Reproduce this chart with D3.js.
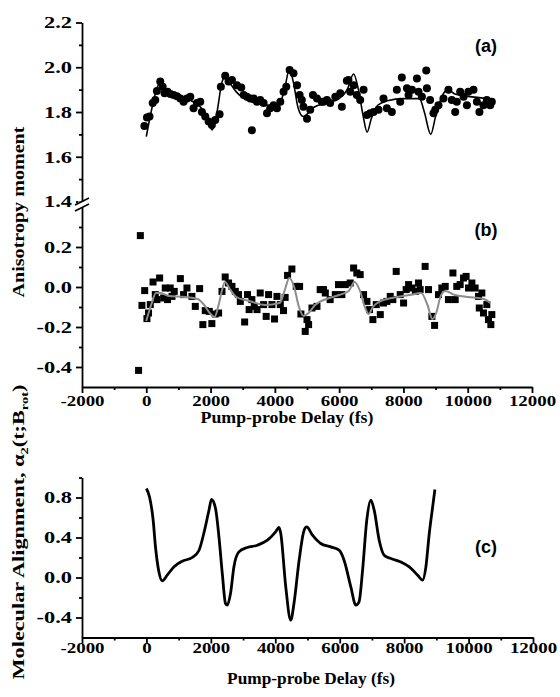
<!DOCTYPE html>
<meta charset="utf-8">
<style>
    html, body { margin: 0; padding: 0; background: #fff; }
    svg { display: block; }
    .ttl { font-family: "Liberation Serif", "Times New Roman", serif; font-weight: bold; font-size: 17px; }
    .tag { font-family: "Liberation Sans", Arial, sans-serif; font-weight: bold; font-size: 18px; }
</style>
<svg id="chart" width="560" height="697"></svg>
<script src="https://d3js.org/d3.v7.min.js"></script>
<script>
    // panel (a): anisotropy moment, circles + fit
    const delayA = [-60, 20, 100, 200, 280, 330, 435, 510, 570, 660, 750, 850, 955, 1060, 1160, 1265, 1370, 1470, 1575, 1680,
        1730, 1835, 1940, 2040, 2145, 2280, 2320, 2455, 2560, 2665, 2820, 2955, 3030, 3130, 3235, 3285, 3340, 3445, 3545, 3650,
        3755, 3855, 3960, 4065, 4170, 4270, 4355, 4460, 4580, 4690, 4770, 4840, 4890, 5000, 5100, 5185, 5310, 5460, 5515, 5620,
        5720, 5880, 6035, 6085, 6240, 6290, 6345, 6450, 6550, 6655, 6760, 6865, 6965, 7070, 7225, 7380, 7485, 7640, 7795, 7900,
        7950, 8110, 8160, 8265, 8420, 8470, 8575, 8710, 8730, 8830, 8935, 8990, 9090, 9245, 9400, 9505, 9610, 9660, 9765, 9870,
        9975, 10020, 10180, 10285, 10365, 10490, 10595, 10700, 10750];
    const momentA = [1.737, 1.775, 1.78, 1.84, 1.854, 1.894, 1.936, 1.913, 1.884, 1.89, 1.88, 1.876, 1.87, 1.86, 1.846, 1.86, 1.868, 1.817, 1.84, 1.846,
        1.80, 1.78, 1.757, 1.742, 1.764, 1.79, 1.913, 1.962, 1.936, 1.943, 1.92, 1.91, 1.876, 1.868, 1.86, 1.718, 1.86, 1.846, 1.854, 1.84,
        1.794, 1.817, 1.83, 1.817, 1.846, 1.89, 1.913, 1.988, 1.973, 1.92, 1.876, 1.854, 1.824, 1.77, 1.81, 1.876, 1.86, 1.846, 1.846, 1.854,
        1.84, 1.868, 1.884, 1.824, 1.94, 1.943, 1.89, 1.92, 1.876, 1.854, 1.90, 1.787, 1.794, 1.80, 1.81, 1.86, 1.817, 1.80, 1.90, 1.846,
        1.954, 1.906, 1.876, 1.90, 1.95, 1.89, 1.868, 1.985, 1.906, 1.854, 1.794, 1.81, 1.83, 1.86, 1.90, 1.854, 1.80, 1.846, 1.89, 1.868,
        1.83, 1.89, 1.90, 1.846, 1.80, 1.83, 1.854, 1.83, 1.846];
    const fitDelayA = [0, 150, 300, 420, 600, 1000, 1400, 1700, 1900, 2050, 2200, 2350, 2450, 2600, 2800, 3200, 3800, 4150, 4300, 4450,
        4580, 4720, 4880, 5000, 5200, 5600, 6000, 6250, 6450, 6600, 6750, 6870, 7000, 7200, 7500, 8000, 8500, 8650, 8850, 9000,
        9200, 9380, 9600, 10000, 10700];
    const fitMomentA = [1.69, 1.80, 1.89, 1.93, 1.90, 1.87, 1.85, 1.82, 1.77, 1.72, 1.80, 1.93, 1.96, 1.93, 1.89, 1.85, 1.83, 1.84, 1.90, 1.99,
        1.93, 1.82, 1.78, 1.79, 1.82, 1.84, 1.86, 1.90, 1.97, 1.90, 1.78, 1.71, 1.77, 1.83, 1.85, 1.86, 1.86, 1.80, 1.70, 1.78,
        1.87, 1.90, 1.88, 1.87, 1.86];

    // panel (b): squares + grey fit
    const delayB = [-240, -185, -135, -50, 20, 70, 125, 210, 280, 330, 415, 540, 590, 660, 745, 800, 870, 1060, 1160, 1265,
        1420, 1525, 1660, 1760, 1835, 1960, 2040, 2145, 2250, 2355, 2455, 2560, 2665, 2770, 2870, 2925, 3060, 3150, 3200, 3285,
        3360, 3445, 3545, 3650, 3730, 3805, 3910, 3990, 4065, 4170, 4270, 4320, 4395, 4530, 4665, 4770, 4810, 4945, 5000, 5050,
        5155, 5310, 5410, 5515, 5570, 5720, 5880, 5980, 6085, 6190, 6345, 6450, 6550, 6655, 6760, 6865, 6945, 7050, 7155, 7280,
        7380, 7485, 7590, 7670, 7775, 7900, 8005, 8085, 8160, 8265, 8370, 8470, 8520, 8675, 8780, 8885, 8970, 9090, 9195, 9300,
        9400, 9540, 9610, 9660, 9765, 9870, 9950, 10025, 10130, 10230, 10335, 10360, 10440, 10490, 10595, 10645, 10720, 10750];
    const momentB = [-0.417, 0.257, -0.092, -0.018, -0.158, -0.13, -0.088, 0.025, -0.038, -0.063, 0.045, -0.055, -0.005, -0.063, -0.005, -0.047, -0.022, 0.042, -0.038, -0.005,
        -0.047, -0.097, -0.008, -0.188, -0.118, -0.122, -0.183, -0.135, -0.13, -0.022, 0.05, 0.02, 0.003, -0.022, -0.038, -0.072, -0.175, -0.038, -0.113, -0.063,
        -0.097, -0.113, -0.03, -0.088, -0.147, -0.038, -0.088, -0.16, -0.047, -0.088, -0.118, -0.052, 0.058, 0.09, 0.003, 0.003, -0.135, -0.222, -0.163, -0.188,
        -0.105, -0.097, -0.013, -0.013, -0.03, -0.063, -0.038, 0.012, -0.038, 0.012, 0.02, 0.095, 0.07, 0.062, -0.038, -0.072, -0.113, -0.163, -0.088, -0.138,
        -0.08, -0.072, -0.047, -0.063, 0.078, -0.038, -0.08, -0.013, 0.012, -0.005, -0.022, 0.02, -0.013, 0.103, -0.013, -0.147, -0.192, -0.038, -0.005, 0.003,
        -0.063, 0.07, -0.063, 0.003, 0.012, 0.045, 0.053, -0.005, 0.02, -0.005, -0.047, -0.105, -0.03, -0.13, -0.088, -0.163, -0.188, -0.138];
    const fitDelayB = [0, 150, 300, 450, 700, 1200, 1600, 1800, 2000, 2120, 2250, 2350, 2450, 2600, 2800, 3200, 3700, 4150, 4300, 4450,
        4600, 4750, 4900, 5050, 5250, 5600, 6000, 6300, 6480, 6650, 6800, 6920, 7050, 7300, 7800, 8200, 8550, 8750, 8900, 9020,
        9150, 9300, 9600, 10000, 10500, 10700];
    const fitMomentB = [-0.17, -0.09, -0.03, -0.03, -0.045, -0.05, -0.06, -0.09, -0.135, -0.15, -0.09, -0.02, 0.025, -0.01, -0.05, -0.07, -0.09, -0.08, -0.02, 0.045,
        0.0, -0.10, -0.145, -0.13, -0.09, -0.06, -0.04, -0.02, 0.025, -0.02, -0.10, -0.135, -0.10, -0.07, -0.05, -0.04, -0.03, -0.09, -0.16, -0.13,
        -0.05, -0.02, -0.04, -0.05, -0.06, -0.08];

    // panel (c): molecular alignment
    const delayC = [0, 100, 210, 280, 385, 490, 645, 850, 1110, 1420, 1630, 1780, 1940, 2020, 2145, 2250, 2355, 2455, 2510, 2610,
        2715, 2870, 3130, 3445, 3755, 4010, 4115, 4170, 4325, 4480, 4580, 4740, 4895, 4975, 5155, 5410, 5720, 5980, 6135, 6345,
        6500, 6600, 6710, 6840, 6965, 7070, 7225, 7380, 7590, 7900, 8160, 8420, 8575, 8675, 8780, 8885, 8955];
    const alignC = [0.89, 0.80, 0.57, 0.31, 0.06, -0.034, 0.023, 0.106, 0.163, 0.20, 0.27, 0.44, 0.67, 0.78, 0.69, 0.41, 0.04, -0.26, -0.277, -0.16,
        0.106, 0.256, 0.30, 0.323, 0.373, 0.456, 0.50, 0.44, -0.094, -0.427, -0.26, 0.173, 0.473, 0.506, 0.423, 0.34, 0.306, 0.273, 0.173, -0.094,
        -0.277, -0.244, 0.073, 0.573, 0.773, 0.673, 0.373, 0.223, 0.19, 0.156, 0.106, 0.023, -0.027, 0.106, 0.44, 0.706, 0.88];

    // tick values
    const xMajor = [-2000, 0, 2000, 4000, 6000, 8000, 10000, 12000];
    const xMinor = [-1000, 1000, 3000, 5000, 7000, 9000, 11000];
    const yMajorA = [1.4, 1.6, 1.8, 2.0, 2.2];
    const yMinorA = [1.5, 1.7, 1.9, 2.1];
    const yMajorB = [-0.4, -0.2, 0.0, 0.2];
    const yMinorB = [-0.3, -0.1, 0.1, 0.3];
    const yMajorC = [-0.4, 0.0, 0.4, 0.8];
    const yMinorC = [-0.2, 0.2, 0.6, 1.0];

    const svg = d3.select("#chart");

    const x = d3.scaleLinear().domain([-2000, 12000]).range([82, 532]);
    const yA = d3.scaleLinear().domain([1.4, 2.2]).range([201.5, 22.5]);
    const yB = d3.scaleLinear().domain([-0.5, 0.4]).range([387, 207]);
    const xC = d3.scaleLinear().domain([-2000, 12000]).range([82, 533]);
    const yC = d3.scaleLinear().domain([-0.6, 1.0]).range([637.5, 477.5]);

    const kx = 1.4; // tick labels in the figure are wide

    function leftAxis(y, major, minor) {
        let g = svg.append("g").attr("transform", "translate(82,0)");
        g.call(d3.axisLeft(y).tickValues(major).tickSize(6).tickSizeOuter(0).tickFormat(d => d.toFixed(1)));
        g.append("g").call(d3.axisLeft(y).tickValues(minor).tickSize(3).tickFormat(""))
            .select(".domain").remove();
        g.attr("font-family", "Liberation Serif, Times New Roman, serif")
            .attr("font-size", 16).attr("font-weight", "bold");
        g.selectAll(".tick text")
            .attr("x", -10 / kx).attr("dy", "0.34em")
            .attr("transform", `scale(${kx},1)`);
        g.selectAll("path, line").attr("stroke-width", 1.8);
        return g;
    }

    function bottomAxis(xs, yPos, labelY) {
        let g = svg.append("g").attr("transform", `translate(0,${yPos})`);
        g.call(d3.axisBottom(xs).tickValues(xMajor).tickSize(6).tickSizeOuter(0).tickFormat(d => String(d)));
        g.append("g").call(d3.axisBottom(xs).tickValues(xMinor).tickSize(3).tickFormat(""))
            .select(".domain").remove();
        g.attr("font-family", "Liberation Serif, Times New Roman, serif")
            .attr("font-size", 14).attr("font-weight", "bold");
        g.selectAll(".tick text")
            .attr("y", labelY).attr("dy", 0)
            .attr("transform", "scale(1.35,1)");
        g.selectAll("path, line").attr("stroke-width", 1.8);
        return g;
    }

    leftAxis(yA, yMajorA, yMinorA);
    leftAxis(yB, yMajorB, yMinorB);
    bottomAxis(x, 387, 19);
    leftAxis(yC, yMajorC, yMinorC);
    bottomAxis(xC, 637.5, 16);

    // axis break marks
    svg.append("rect").attr("x", 78).attr("y", 201.5).attr("width", 8).attr("height", 5.5).attr("fill", "#fff");
    [0, 6].forEach(o => {
        svg.append("line")
            .attr("x1", 75).attr("y1", 205 + o).attr("x2", 89).attr("y2", 198 + o)
            .attr("stroke", "#000").attr("stroke-width", 1.8);
    });

    // panel (a)
    const ptsA = delayA.map((d, i) => [d, momentA[i]]);
    svg.append("g").selectAll("circle").data(ptsA).join("circle")
        .attr("cx", d => x(d[0])).attr("cy", d => yA(d[1])).attr("r", 4).attr("fill", "#000");
    svg.append("path")
        .datum(fitDelayA.map((d, i) => [d, fitMomentA[i]]))
        .attr("fill", "none").attr("stroke", "#000").attr("stroke-width", 1.6)
        .attr("d", d3.line().x(d => x(d[0])).y(d => yA(d[1])).curve(d3.curveMonotoneX));

    // panel (b)
    const ptsB = delayB.map((d, i) => [d, momentB[i]]);
    svg.append("g").selectAll("rect").data(ptsB).join("rect")
        .attr("x", d => x(d[0]) - 3.5).attr("y", d => yB(d[1]) - 3.5)
        .attr("width", 7).attr("height", 7).attr("fill", "#000");
    svg.append("path")
        .datum(fitDelayB.map((d, i) => [d, fitMomentB[i]]))
        .attr("fill", "none").attr("stroke", "#8c8c8c").attr("stroke-width", 2)
        .attr("d", d3.line().x(d => x(d[0])).y(d => yB(d[1])).curve(d3.curveMonotoneX));

    // panel (c)
    svg.append("path")
        .datum(delayC.map((d, i) => [d, alignC[i]]))
        .attr("fill", "none").attr("stroke", "#000").attr("stroke-width", 2.8)
        .attr("stroke-linejoin", "round")
        .attr("d", d3.line().x(d => xC(d[0])).y(d => yC(d[1])).curve(d3.curveMonotoneX));

    // titles, stretched to the widths seen in the figure
    function title(cx, cy, rot, len) {
        let t = svg.append("text").attr("class", "ttl").attr("text-anchor", "middle");
        return {
            t: t,
            fit: function () {
                let w = t.node().getComputedTextLength();
                t.attr("transform", `translate(${cx},${cy}) rotate(${rot}) scale(${len / w},1)`);
            }
        };
    }

    let t1 = title(24, 212, -90, 171);
    t1.t.text("Anisotropy moment");
    t1.fit();

    let t2 = title(287, 423, 0, 173);
    t2.t.text("Pump-probe Delay (fs)");
    t2.fit();

    let t3 = title(287 + 24, 684, 0, 168);
    t3.t.text("Pump-probe Delay (fs)");
    t3.fit();

    let t4 = title(24, 532, -90, 295);
    t4.t.append("tspan").text("Molecular Alignment, α");
    t4.t.append("tspan").attr("dy", 4).attr("font-size", 11).text("2");
    t4.t.append("tspan").attr("dy", -4).text("(t;B");
    t4.t.append("tspan").attr("dy", 4).attr("font-size", 11).text("rot");
    t4.t.append("tspan").attr("dy", -4).text(")");
    t4.fit();

    // panel tags
    svg.append("text").attr("class", "tag").attr("x", 486).attr("y", 52).attr("text-anchor", "middle").text("(a)");
    svg.append("text").attr("class", "tag").attr("x", 486).attr("y", 236).attr("text-anchor", "middle").text("(b)");
    svg.append("text").attr("class", "tag").attr("x", 486).attr("y", 553).attr("text-anchor", "middle").text("(c)");
</script>
